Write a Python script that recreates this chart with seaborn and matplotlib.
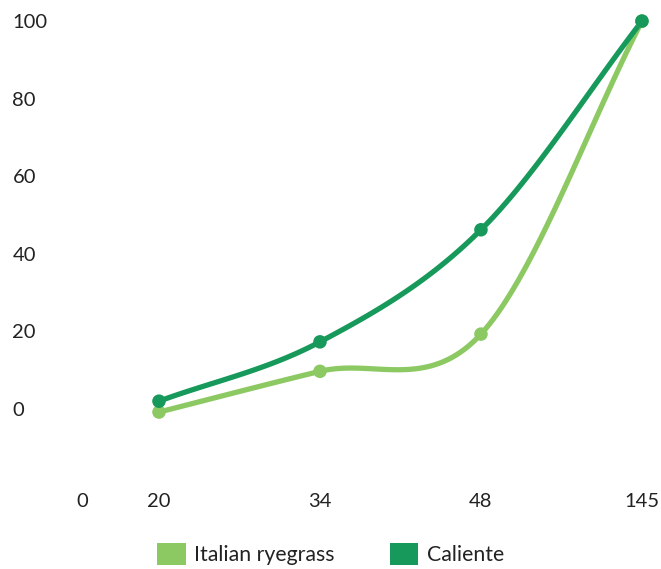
import numpy as np
import pandas as pd
import seaborn as sns
import matplotlib.pyplot as plt
from matplotlib.patches import Patch

# x categories (the first tick "0" sits at the origin, no data there)
x_labels = ['0', '20', '34', '48', '145']
categories = ['20', '34', '48', '145']
italian_ryegrass = [-0.8, 9.7, 19.3, 100]
caliente = [2.0, 17.3, 46.2, 100]

series_names = ['Italian ryegrass', 'Caliente']
colors = ['#8cc963', '#16995a']


def catmull_rom(xs, ys, n=40):
    # smooth curve through the points (cardinal spline, tension 0)
    xs = np.asarray(xs, float)
    ys = np.asarray(ys, float)
    px = np.concatenate([[2 * xs[0] - xs[1]], xs, [2 * xs[-1] - xs[-2]]])
    py = np.concatenate([[2 * ys[0] - ys[1]], ys, [2 * ys[-1] - ys[-2]]])
    out_x, out_y = [], []
    for i in range(1, len(px) - 2):
        t = np.linspace(0, 1, n)
        m0x = (px[i + 1] - px[i - 1]) / 2
        m1x = (px[i + 2] - px[i]) / 2
        m0y = (py[i + 1] - py[i - 1]) / 2
        m1y = (py[i + 2] - py[i]) / 2
        h00 = 2 * t**3 - 3 * t**2 + 1
        h10 = t**3 - 2 * t**2 + t
        h01 = -2 * t**3 + 3 * t**2
        h11 = t**3 - t**2
        out_x.append(h00 * px[i] + h10 * m0x + h01 * px[i + 1] + h11 * m1x)
        out_y.append(h00 * py[i] + h10 * m0y + h01 * py[i + 1] + h11 * m1y)
    return np.concatenate(out_x), np.concatenate(out_y)


sns.set_style('white')
plt.rcParams['font.family'] = ['Lato', 'DejaVu Sans']

fig = plt.figure(figsize=(6.61, 5.69), dpi=100)
ax = fig.add_axes([62.4 / 661, 98 / 569, (650 - 62.4) / 661, 453 / 569])

pos = np.arange(1, len(categories) + 1)
for name, vals, c in zip(series_names, [italian_ryegrass, caliente], colors):
    sx, sy = catmull_rom(pos, vals)
    sns.lineplot(x=sx, y=sy, ax=ax, color=c, linewidth=3.8, sort=False,
                 estimator=None, solid_capstyle='round', clip_on=False)
    df = pd.DataFrame({'x': pos, 'y': vals})
    sns.scatterplot(data=df, x='x', y='y', ax=ax, color=c, s=95,
                    edgecolor='none', zorder=5, clip_on=False)

ax.set_xlim(0.4, 4.05)
ax.set_ylim(-16, 100.8)
ax.set_xticks([1 - 77 / 161] + list(pos))
ax.set_xticklabels(x_labels)
ax.set_yticks([0, 20, 40, 60, 80, 100])
ax.set_xlabel('')
ax.set_ylabel('')
ax.tick_params(axis='both', length=0, labelsize=14.5, labelcolor='#222222')
ax.tick_params(axis='x', pad=16)
ax.tick_params(axis='y', pad=36)
for lab in ax.get_yticklabels():
    lab.set_horizontalalignment('left')
sns.despine(ax=ax, left=True, bottom=True)

handles = [Patch(facecolor=c, edgecolor='none', label=n) for n, c in zip(series_names, colors)]
fig.legend(handles=handles, loc='center', bbox_to_anchor=(0.5, 15 / 569), ncol=2,
           frameon=False, fontsize=15.3, handlelength=1.35, handleheight=1.25,
           handletextpad=0.4, columnspacing=2.6, labelcolor='#222222')

fig.savefig('out.png', dpi=100)
